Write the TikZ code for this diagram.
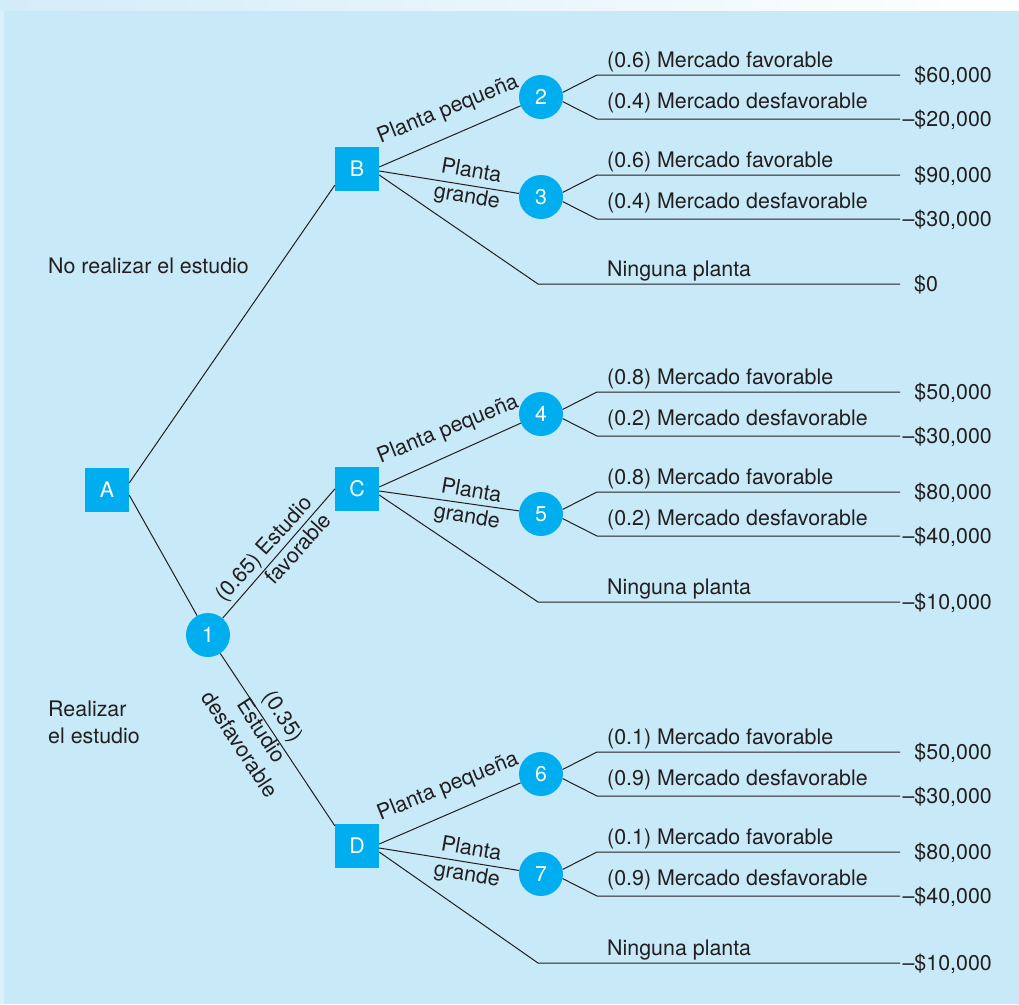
\documentclass[tikz,border=0pt]{standalone}
\usepackage{fontspec}
\setmainfont{TeX Gyre Heros}
\definecolor{bg}{HTML}{C7E9F8}
\definecolor{topl}{HTML}{D3ECF9}
\definecolor{leftc}{HTML}{DAF0FA}
\definecolor{nodeblue}{HTML}{00AEEF}
\definecolor{ink}{HTML}{231F20}
\newcommand\fs{\fontsize{21.4}{26}\selectfont}
\begin{document}
\begin{tikzpicture}[x=1pt,y=-1pt,font=\fs,
  decision/.style={rectangle,fill=nodeblue,minimum size=44pt,inner sep=0pt,text=white},
  chance/.style={circle,fill=nodeblue,minimum size=44pt,inner sep=0pt,text=white},
  link/.style={draw=ink,line width=1pt},
  branchlbl/.style={anchor=base west,inner sep=0pt,text=ink},
  payoff/.style={anchor=base east,inner sep=0pt,text=ink},
  sidelbl/.style={anchor=base west,inner sep=0pt,text=ink},
  edgelbl/.style={inner sep=0pt,text=ink,align=center}]
\useasboundingbox (0,0) rectangle (1019,1004);
\shade[left color=topl, right color=white] (0,0) rectangle (1019,11);
\fill[leftc] (0,11) rectangle (4,1004);
\fill[bg] (4,11) rectangle (1019,1004);

% decision and first chance nodes
\node[decision] (A) at (107,490) {A};
\node[decision] (B) at (357,169) {B};
\node[decision] (C) at (357,489) {C};
\node[decision] (D) at (357,846) {D};
\node[chance] (c1) at (208,635) {1};

% chance nodes with their two outcomes
\foreach \n/\y/\pa/\pb/\va/\vb in {
  2/97/0.6/0.4/{\$60,000}/{\textendash\$20,000},
  3/197/0.6/0.4/{\$90,000}/{\textendash\$30,000},
  4/414/0.8/0.2/{\$50,000}/{\textendash\$30,000},
  5/514/0.8/0.2/{\$80,000}/{\textendash\$40,000},
  6/774/0.1/0.9/{\$50,000}/{\textendash\$30,000},
  7/874/0.1/0.9/{\$80,000}/{\textendash\$40,000}}{
  \node[chance] (c\n) at (541,\y) {\n};
  \coordinate (ka\n) at (597,\y-22);
  \coordinate (ea\n) at (900,\y-22);
  \coordinate (kb\n) at (597,\y+22);
  \coordinate (eb\n) at (900,\y+22);
  \draw[link] (c\n.12) -- (ka\n) -- (ea\n);
  \draw[link] (c\n.-12) -- (kb\n) -- (eb\n);
  \node[branchlbl] (la\n) at (607,\y-30) {(\pa) Mercado favorable};
  \node[branchlbl] (lb\n) at (607,\y+11) {(\pb) Mercado desfavorable};
  \node[payoff] (va\n) at (992,\y-15) {\va};
  \node[payoff] (vb\n) at (992,\y+29) {\vb};
}

% "Ninguna planta" branches
\coordinate (nB) at (538,284); \coordinate (nBe) at (900,284);
\coordinate (nC) at (538,602); \coordinate (nCe) at (900,602);
\coordinate (nD) at (538,963); \coordinate (nDe) at (900,963);
\draw[link] ([yshift=-6pt]B.east) -- (nB) -- (nBe);
\draw[link] ([yshift=-6pt]C.east) -- (nC) -- (nCe);
\draw[link] ([yshift=-6pt]D.east) -- (nD) -- (nDe);
\node[branchlbl] (lnB) at (607,276) {Ninguna planta};
\node[branchlbl] (lnC) at (607,594) {Ninguna planta};
\node[branchlbl] (lnD) at (607,955) {Ninguna planta};
\node[branchlbl] (vnB) at (914,291) {\$0};
\node[payoff] (vnC) at (992,609) {\textendash\$10,000};
\node[payoff] (vnD) at (992,970) {\textendash\$10,000};

% main connectors
\draw[link] ([yshift=7pt]A.east) -- ([yshift=6pt]B.south west);
\draw[link] ([yshift=-5pt]A.east) -- (c1);
\draw[link] (c1) -- (C.west);
\draw[link] (c1) -- ([yshift=-2pt]D.north west);
\draw[link] ([yshift=2pt]B.east) -- (c2);
\draw[link] ([yshift=-2pt]B.east) -- (c3);
\draw[link] ([yshift=2pt]C.east) -- (c4);
\draw[link] ([yshift=-2pt]C.east) -- (c5);
\draw[link] ([yshift=2pt]D.east) -- (c6);
\draw[link] ([yshift=-2pt]D.east) -- (c7);

% connector labels
\node[edgelbl,rotate=22] (tB1) at (448,110) {Planta pequeña};
\node[edgelbl,rotate=-10] (tB2) at (469,185) {Planta\\grande};
\node[edgelbl,rotate=22] (tC1) at (448,430) {Planta pequeña};
\node[edgelbl,rotate=-10] (tC2) at (469,505) {Planta\\grande};
\node[edgelbl,rotate=22] (tD1) at (448,787) {Planta pequeña};
\node[edgelbl,rotate=-10] (tD2) at (469,863) {Planta\\grande};
\node[edgelbl,align=right,rotate=48] (t1C) at (273,557) {(0.65) Estudio\\favorable};
\node[edgelbl,rotate=-57] (t1D) at (262,730) {(0.35)\\Estudio\\desfavorable};

% side labels
\node[sidelbl] (s1) at (48,273) {No realizar el estudio};
\node[sidelbl] (s2) at (48,716) {Realizar};
\node[sidelbl] (s3) at (48,743) {el estudio};
\end{tikzpicture}
\end{document}
